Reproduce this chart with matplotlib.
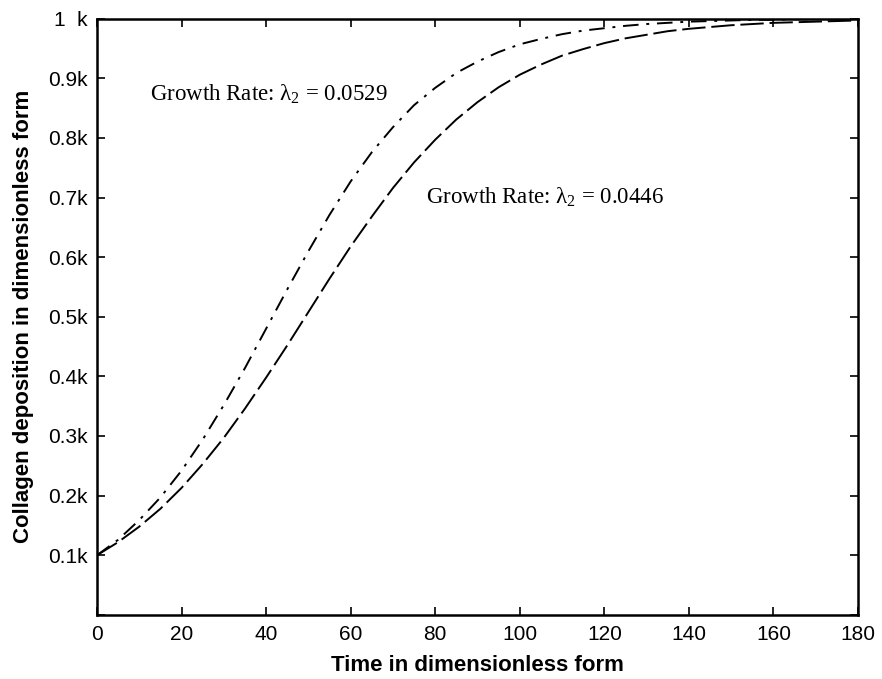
import numpy as np
import matplotlib.pyplot as plt

# values
t = [0, 5, 10, 15, 20, 25, 30, 35, 40, 45, 50, 55, 60, 65, 70, 75, 80, 85, 90,
     95, 100, 105, 110, 115, 120, 125, 130, 135, 140, 145, 150, 155, 160, 165,
     170, 175, 180]
fast = [0.100, 0.126, 0.159, 0.197, 0.242, 0.294, 0.352, 0.414, 0.480, 0.546,
        0.610, 0.671, 0.727, 0.776, 0.818, 0.855, 0.884, 0.909, 0.928, 0.944,
        0.957, 0.966, 0.974, 0.980, 0.984, 0.988, 0.991, 0.993, 0.995, 0.996,
        0.997, 0.998, 0.998, 0.999, 0.999, 0.999, 0.999]
slow = [0.100, 0.122, 0.148, 0.178, 0.213, 0.253, 0.297, 0.346, 0.398, 0.452,
        0.508, 0.564, 0.618, 0.668, 0.716, 0.759, 0.797, 0.831, 0.860, 0.885,
        0.906, 0.923, 0.938, 0.949, 0.959, 0.967, 0.973, 0.979, 0.983, 0.986,
        0.989, 0.991, 0.993, 0.994, 0.995, 0.996, 0.997]
xticks = [0, 20, 40, 60, 80, 100, 120, 140, 160, 180]
yticks = [0, 0.1, 0.2, 0.3, 0.4, 0.5, 0.6, 0.7, 0.8, 0.9, 1.0]
ylabels = ['', '0.1k', '0.2k', '0.3k', '0.4k', '0.5k', '0.6k', '0.7k', '0.8k', '0.9k', '1  k']

plt.rcParams['font.family'] = 'Liberation Sans'
plt.rcParams['mathtext.fontset'] = 'custom'
plt.rcParams['mathtext.rm'] = 'Liberation Serif'
plt.rcParams['mathtext.it'] = 'Liberation Serif'
plt.rcParams['mathtext.default'] = 'rm'

fig = plt.figure(figsize=(8.82, 6.79), dpi=100)
ax = fig.add_axes([0.110, 0.0945, 0.8628, 0.878])

ax.plot(t, fast, color='black', lw=1.4, dashes=[8, 4, 1.5, 4])
ax.plot(t, slow, color='black', lw=1.4, dashes=[12, 3])

ax.text(12.6, 0.873, 'Growth Rate: λ$_2$ = 0.0529', fontsize=16.5,
        va='center', fontname='Liberation Serif')
ax.text(77.7, 0.700, 'Growth Rate: λ$_2$ = 0.0446', fontsize=16.5,
        va='center', fontname='Liberation Serif')

ax.set_xlim(0, 180)
ax.set_ylim(0, 1.0)
ax.set_xticks(xticks)
ax.set_yticks(yticks)
ax.set_yticklabels(ylabels)
ax.tick_params(direction='in', length=6, width=1.2, labelsize=15,
               top=True, right=True, pad=7)
for s in ax.spines.values():
    s.set_linewidth(1.8)

ax.set_xlabel('Time in dimensionless form', fontsize=16, fontweight='bold',
              va='center')
ax.set_ylabel('Collagen deposition in dimensionless form', fontsize=16,
              fontweight='bold', va='center')
ax.xaxis.set_label_coords(0.5, -0.085)
ax.yaxis.set_label_coords(-0.097, 0.5)

fig.savefig('out.png', dpi=100)
